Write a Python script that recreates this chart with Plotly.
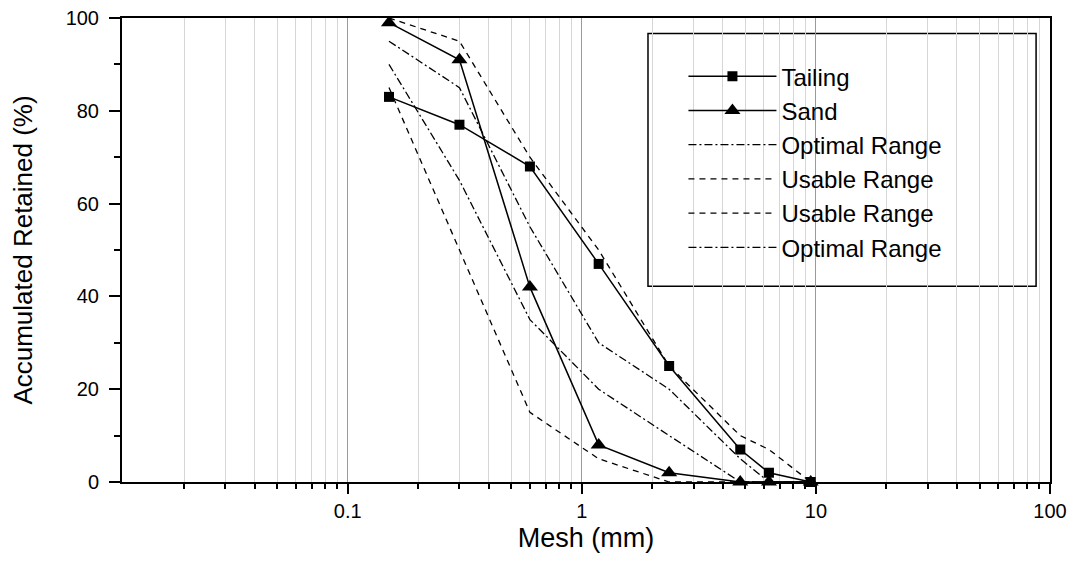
import plotly.graph_objects as go

# ---- data (accumulated retained %, by sieve opening in mm) ----
mesh_mm = [0.15, 0.3, 0.6, 1.18, 2.36, 4.75, 6.3, 9.5]
tailing = [83, 77, 68, 47, 25, 7, 2, 0]
sand = [99, 91, 42, 8, 2, 0, 0, 0]
optimal_lower = [90, 65, 35, 20, 10, 0, 0, 0]
usable_lower = [85, 50, 15, 5, 0, 0, 0, 0]
usable_upper = [100, 95, 70, 50, 25, 10, 7, 0]
optimal_upper = [95, 85, 55, 30, 20, 5, 0, 0]

x_tick_vals = [0.1, 1, 10, 100]
x_tick_text = ["0.1", "1", "10", "100"]
y_tick_vals = [0, 20, 40, 60, 80, 100]

FONT = "Liberation Sans, Arial, Helvetica, sans-serif"
DASH = "6px,5px"
DASHDOT = "8px,3px,2px,3px"

fig = go.Figure()

fig.add_trace(go.Scatter(
    x=mesh_mm, y=tailing, name="Tailing", mode="lines+markers",
    line=dict(color="black", width=1.5),
    marker=dict(symbol="square", size=10, color="black"),
    cliponaxis=False))
fig.add_trace(go.Scatter(
    x=mesh_mm, y=sand, name="Sand", mode="lines+markers",
    line=dict(color="black", width=1.5),
    marker=dict(symbol="triangle-up", size=14, color="black"),
    cliponaxis=False))
fig.add_trace(go.Scatter(
    x=mesh_mm, y=optimal_lower, name="Optimal Range", mode="lines",
    line=dict(color="black", width=1.3, dash=DASHDOT)))
fig.add_trace(go.Scatter(
    x=mesh_mm, y=usable_lower, name="Usable Range", mode="lines",
    line=dict(color="black", width=1.3, dash=DASH)))
fig.add_trace(go.Scatter(
    x=mesh_mm, y=usable_upper, name="Usable Range", mode="lines",
    line=dict(color="black", width=1.3, dash=DASH)))
fig.add_trace(go.Scatter(
    x=mesh_mm, y=optimal_upper, name="Optimal Range", mode="lines",
    line=dict(color="black", width=1.3, dash=DASHDOT)))

minor_vals = [m * 10 ** e for e in range(-2, 2) for m in range(2, 10)]

fig.update_xaxes(
    type="log", range=[-1.9645, 2], automargin=False, ticklabeloverflow="allow",
    tickmode="array", tickvals=x_tick_vals, ticktext=x_tick_text,
    ticks="outside", ticklen=10, tickwidth=1.5, tickcolor="black",
    showgrid=True, gridcolor="#9a9a9a", gridwidth=1,
    minor=dict(tickmode="array", tickvals=minor_vals, ticks="outside",
               ticklen=5, tickwidth=1.5, tickcolor="black",
               showgrid=True, gridcolor="#d6d6d6", gridwidth=1),
    showline=True, linecolor="black", linewidth=2, mirror=True,
    zeroline=False,
    tickfont=dict(size=20, family=FONT, color="black"),
    title=dict(text="Mesh (mm)", font=dict(size=27, family=FONT, color="black"), standoff=14),
)
fig.update_yaxes(
    range=[0, 100], automargin=False, ticklabeloverflow="allow",
    tickmode="array", tickvals=y_tick_vals,
    ticks="outside", ticklen=11, tickwidth=1.5, tickcolor="black",
    minor=dict(dtick=10, ticks="outside", ticklen=6, tickwidth=1.5, tickcolor="black", showgrid=False),
    showgrid=False, zeroline=False,
    showline=True, linecolor="black", linewidth=2, mirror=True,
    tickfont=dict(size=20, family=FONT, color="black"),
    ticklabelstandoff=6,
    title=dict(text="Accumulated Retained (%)", font=dict(size=26, family=FONT, color="black"), standoff=38),
)

# legend frame
fig.add_shape(type="rect", xref="paper", yref="paper",
              x0=0.5668, x1=0.985, y0=0.4221, y1=0.9664,
              line=dict(color="black", width=1.5), fillcolor="white", layer="below")

# page body has an 8px margin: figure is sized so the page is exactly 1075x561
fig.update_layout(
    width=1059, height=545,
    margin=dict(l=114, r=17, t=10, b=71),
    plot_bgcolor="white", paper_bgcolor="white",
    font=dict(family=FONT, color="black"),
    showlegend=True,
    legend=dict(x=0.605, y=0.922, xanchor="left", yanchor="top",
                font=dict(size=24, family=FONT, color="black"),
                bgcolor="rgba(0,0,0,0)", borderwidth=0, itemwidth=88,
                tracegroupgap=0),
)

fig.write_html("out.html")
